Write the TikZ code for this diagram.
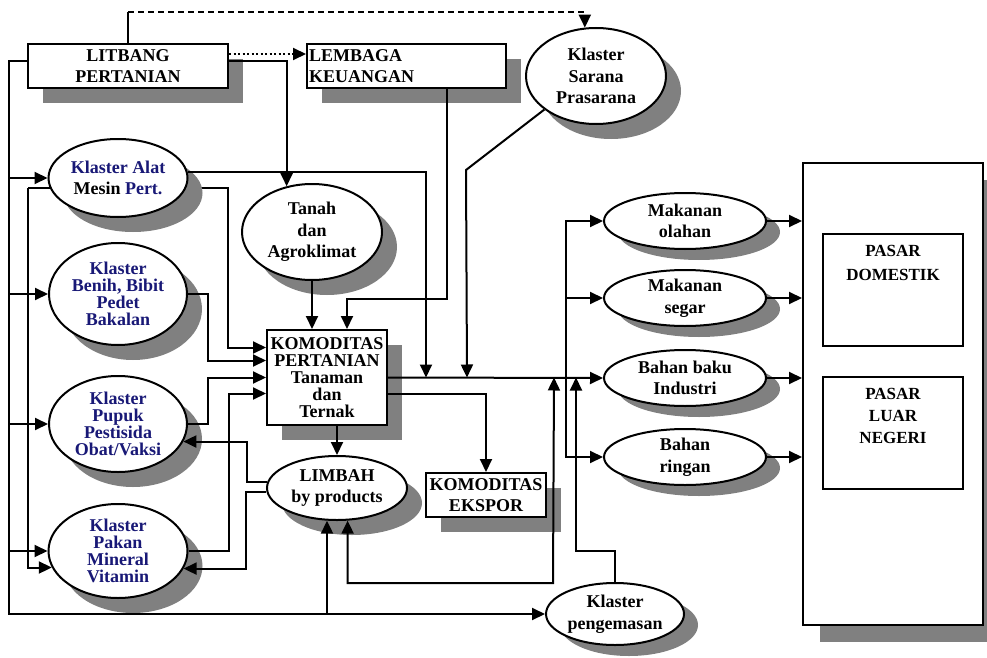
\documentclass[tikz,border=0pt]{standalone}
\usepackage{fontspec}
\setmainfont{Liberation Serif}[BoldFont={Liberation Serif Bold}]
\usetikzlibrary{arrows.meta,shapes.geometric,shadows,backgrounds}
\definecolor{klblue}{RGB}{24,24,118}
\definecolor{shadowgray}{RGB}{128,128,128}

\begin{document}
\begin{tikzpicture}[x=1pt, y=-1pt,
    conn/.style={line width=2pt},
    arr/.style={conn, -{Triangle[length=13pt,width=12pt]}},
    twoarr/.style={conn, {Triangle[length=13pt,width=12pt]}-{Triangle[length=13pt,width=12pt]}},
    shadowbig/.style={drop shadow={shadow xshift=15pt, shadow yshift=-15pt, fill=shadowgray, opacity=1}},
    shadowsmall/.style={drop shadow={shadow xshift=14pt, shadow yshift=-11pt, fill=shadowgray, opacity=1}},
    box/.style={draw, line width=2pt, fill=white, align=center, inner sep=1pt, font=\bfseries\fontsize{18}{21.5}\selectfont},
    oval/.style={ellipse, draw, line width=2pt, fill=white, align=center, inner sep=0pt, font=\bfseries\fontsize{18}{21.5}\selectfont},
    klaster/.style={oval, text=klblue, font=\bfseries\fontsize{18}{17}\selectfont},
    pasarbox/.style={draw, line width=2pt, fill=white, minimum width=140pt, minimum height=112pt},
  ]
  \useasboundingbox (0,0) rectangle (987,658);

  % left column
  \node[box, shadowbig, minimum width=200pt, minimum height=44pt] (litbang) at (128,66) {LITBANG\\PERTANIAN};
  \node[box, shadowbig, minimum height=44pt, text width=195pt, align=left, inner xsep=2pt] (lembaga) at (406.5,66) {LEMBAGA\\KEUANGAN};
  \node[oval, shadowbig, minimum width=140pt, minimum height=96pt] (sarana) at (596,76) {Klaster\\Sarana\\Prasarana};
  \node[oval, shadowbig, minimum width=139pt, minimum height=78pt] (alat) at (118,178) {\textcolor{klblue}{Klaster Alat}\\Mesin \textcolor{klblue}{Pert.}};
  \node[oval, shadowbig, minimum width=140pt, minimum height=96pt] (tanah) at (312,232) {Tanah\\dan\\Agroklimat};
  \node[klaster, shadowbig, minimum width=138pt, minimum height=102pt] (benih) at (118,294) {Klaster\\Benih, Bibit\\Pedet\\Bakalan};
  \node[klaster, shadowbig, minimum width=138pt, minimum height=96pt] (pupuk) at (118,424) {Klaster\\Pupuk\\Pestisida\\Obat/Vaksi};
  \node[klaster, shadowbig, minimum width=139pt, minimum height=94pt] (pakan) at (118,551) {Klaster\\Pakan\\Mineral\\Vitamin};

  % middle
  \node[box, shadowbig, minimum width=120pt, minimum height=95pt, font=\bfseries\fontsize{18}{17}\selectfont] (kom) at (327,377.5) {KOMODITAS\\PERTANIAN\\Tanaman\\dan\\Ternak};
  \node[oval, shadowbig, minimum width=140pt, minimum height=64pt] (limbah) at (337,488) {LIMBAH\\by products};
  \node[box, shadowbig, minimum width=120pt, minimum height=44pt] (ekspor) at (486,495) {KOMODITAS\\EKSPOR};
  \node[oval, shadowsmall, minimum width=138pt, minimum height=62pt] (kemas) at (615,614) {Klaster\\pengemasan};

  % right
  \node[oval, shadowsmall, minimum width=162pt, minimum height=56pt] (olahan) at (685,221) {Makanan\\olahan};
  \node[oval, shadowsmall, minimum width=162pt, minimum height=56pt] (segar) at (685,298) {Makanan\\segar};
  \node[oval, shadowsmall, minimum width=162pt, minimum height=56pt] (baku) at (685,378) {Bahan baku\\Industri};
  \node[oval, shadowsmall, minimum width=162pt, minimum height=56pt] (ringan) at (685,457) {Bahan\\ringan};
  \node[box, minimum width=180pt, minimum height=462pt, drop shadow={shadow xshift=17pt, shadow yshift=-17pt, fill=shadowgray, opacity=1}] (pasar) at (893,394) {};
  \node[pasarbox, label={[anchor=north, yshift=-9pt, align=center, font=\bfseries\fontsize{17}{24}\selectfont]north:PASAR\\DOMESTIK}] (domestik) at (893,290) {};
  \node[pasarbox, label={[anchor=north, yshift=-9pt, align=center, font=\bfseries\fontsize{17}{22}\selectfont]north:PASAR\\LUAR\\NEGERI}] (luar) at (893,433) {};

  % litbang links
  \draw[conn] (litbang.north) -- ++(0,-31) coordinate (ltop);
  \draw[arr, dash pattern=on 6pt off 4pt] (ltop) -| (sarana.103);
  \draw[arr, dash pattern=on 2pt off 2.5pt] ([yshift=12pt]litbang.east) -- ([yshift=12pt]lembaga.west);
  \draw[arr] ([yshift=5pt]litbang.east) -| (tanah.119);
  \coordinate (lx) at (9,61);
  \draw[arr] ([yshift=5pt]litbang.west) -- (lx) |- (kemas.west);
  \draw[arr] (lx |- alat.west) -- (alat.west);
  \draw[arr] (lx |- benih.west) -- (benih.west);
  \draw[arr] (lx |- pupuk.west) -- (pupuk.west);
  \draw[arr] (lx |- pakan.west) -- (pakan.west);
  \draw[arr] (limbah.253 |- kemas.west) -- (limbah.253);

  \begin{pgfonlayer}{background}
    \coordinate (ix) at (28,188);
    \draw[arr] (ix) |- (pakan.194);
    \draw[arr] (ix) -- (228,188) |- ([yshift=30pt]kom.west);
  \end{pgfonlayer}

  % klaster into komoditas
  \draw[arr] (alat.5) -| ([xshift=38pt]kom.east);
  \draw[arr] (benih.east) -- ++(20,0) |- ([yshift=17pt]kom.west);
  \draw[arr] (pupuk.east) -- ++(20,0) |- (kom.west);
  \draw[arr] (pakan.east) -- ++(40,0) |- ([yshift=-16pt]kom.west);
  \draw[arr] (tanah.south) -- (tanah.south |- kom.north);
  \draw[arr] ([xshift=40pt]lembaga.south) -- ++(0,210) -| ([xshift=20pt]kom.north);
  \draw[arr] (sarana.213) -- (466,170) -- ([xshift=79pt]kom.east);

  % limbah
  \draw[arr] (limbah.north |- kom.south) -- (limbah.north);
  \draw[arr] (limbah.175) -- ++(-20,0) |- (pupuk.345);
  \draw[arr] (limbah.183) -- ++(-20,0) |- (pakan.345);
  \coordinate (loop) at (553,583);
  \draw[twoarr] (limbah.288) |- (loop) -- ([xshift=166pt]kom.east);
  \draw[arr] (kemas.north) -- ++(0,-31) -| ([xshift=188pt]kom.east);

  % outputs
  \draw[arr] ([yshift=-16pt]kom.east) -| (ekspor.north);
  \draw[arr] (kom.east) -- (baku.west);
  \coordinate (split) at (566,377.5);
  \draw[arr] (split) |- (olahan.west);
  \draw[arr] (split) |- (segar.west);
  \draw[arr] (split) |- (ringan.west);
  \draw[arr] (olahan.east) -- (olahan.east -| pasar.west);
  \draw[arr] (segar.east) -- (segar.east -| pasar.west);
  \draw[arr] (baku.east) -- (baku.east -| pasar.west);
  \draw[arr] (ringan.east) -- (ringan.east -| pasar.west);
\end{tikzpicture}
\end{document}
